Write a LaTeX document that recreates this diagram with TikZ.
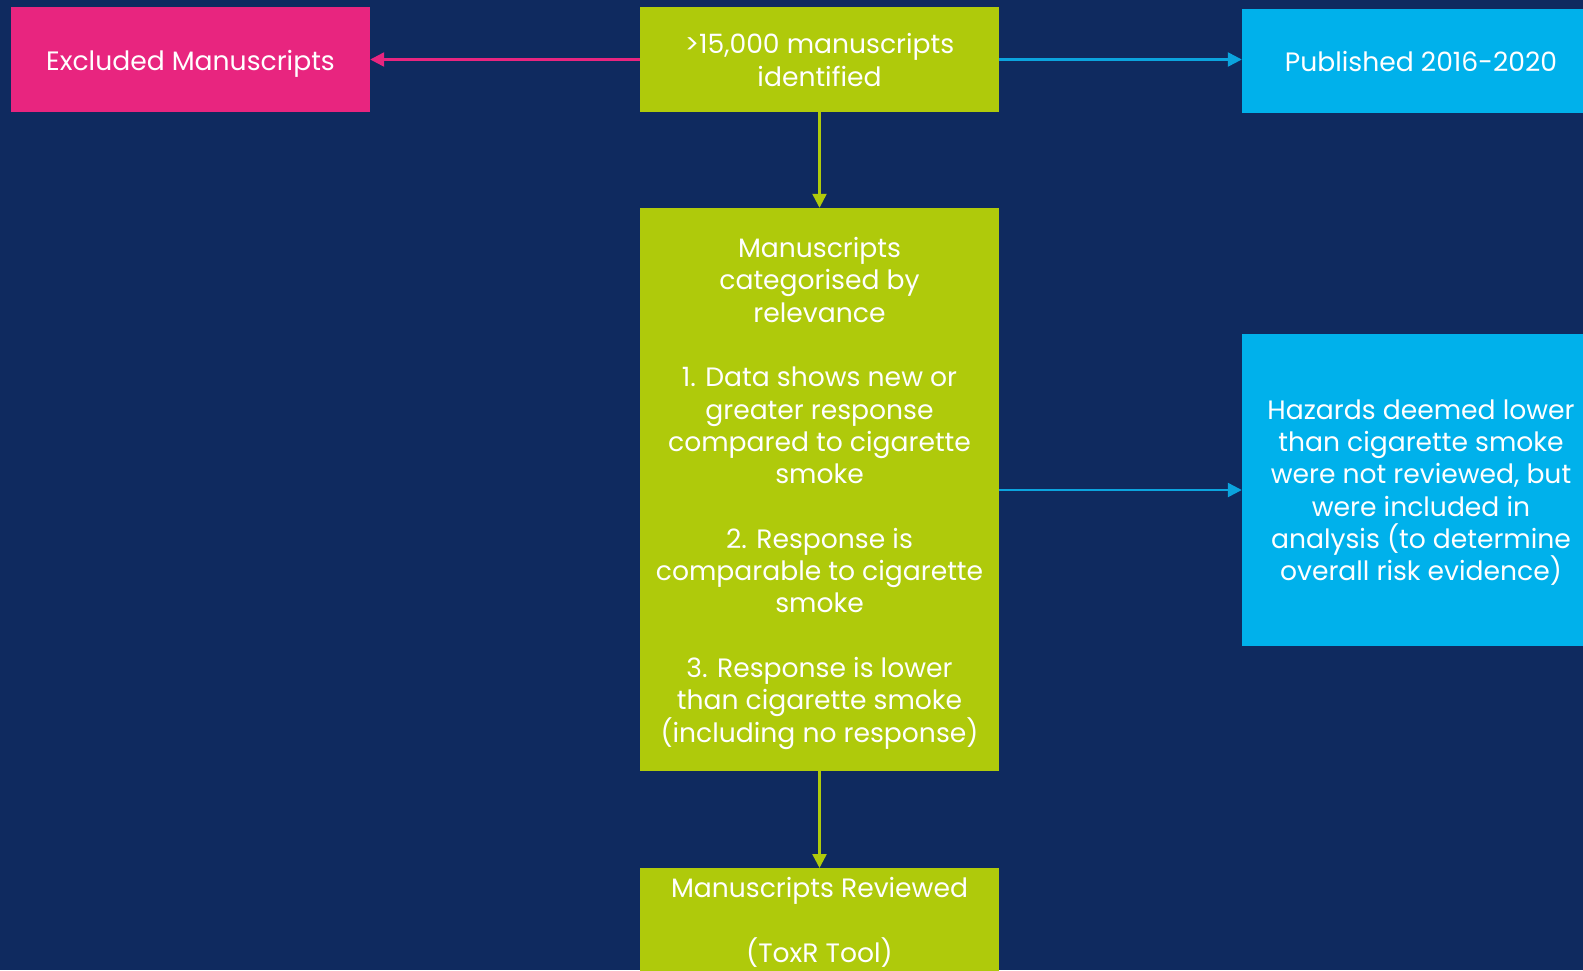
\documentclass[tikz,border=0pt]{standalone}
\usepackage{fontspec}
\setmainfont{Poppins}
\usetikzlibrary{arrows.meta}
\definecolor{navy}{HTML}{0F2A5F}
\definecolor{pinkbox}{HTML}{E8257F}
\definecolor{greenbox}{HTML}{AFCA0B}
\definecolor{bluebox}{HTML}{00B1EB}
\definecolor{bluearrow}{HTML}{0BA4DE}
\tikzset{
  boxbase/.style={rectangle, inner sep=0pt, text=white, align=center,
    font=\fontsize{26.6}{32.3}\selectfont},
  pinkstyle/.style={boxbase, fill=pinkbox},
  greenstyle/.style={boxbase, fill=greenbox},
  bluestyle/.style={boxbase, fill=bluebox},
  conn/.style={line width=2.4pt, -{Triangle[length=14pt,width=14pt]}},
}
\begin{document}
\begin{tikzpicture}[x=1pt,y=-1pt]
\useasboundingbox (0,0) rectangle (1583,970);
\clip (0,0) rectangle (1583,970);
\fill[navy] (0,0) rectangle (1583,970);

\node[pinkstyle, minimum width=359pt, minimum height=105pt, text height=22.5pt, text depth=0pt] (excl) at (190.5,59.5) {Excluded Manuscripts};
\node[greenstyle, minimum width=359pt, minimum height=105pt] (top) at (819.5,59.5) {\rule{0pt}{21pt}>15,000 manuscripts\\identified};
\node[bluestyle, minimum width=358pt, minimum height=104pt] (pub) at (1421,61) {Published 2016-2020};
\node[greenstyle, minimum width=359pt, minimum height=563pt] (mid) at (819.5,489.5) {\rule{0pt}{28pt}Manuscripts\\categorised by\\relevance\\[32.3pt]1. Data shows new or\\greater response\\compared to cigarette\\smoke\\[32.3pt]2. Response is\\comparable to cigarette\\smoke\\[32.3pt]3. Response is lower\\than cigarette smoke\\(including no response)};
\node[bluestyle, minimum width=358pt, minimum height=312pt] (haz) at (1421,490) {\rule{0pt}{25pt}Hazards deemed lower\\than cigarette smoke\\were not reviewed, but\\were included in\\analysis (to determine\\overall risk evidence)};
\node[greenstyle, minimum width=359pt, minimum height=132pt, anchor=north] (bot) at (819.5,868) {};
\node[boxbase, anchor=north] (botlabel) at ([yshift=-9pt]bot.north) {Manuscripts Reviewed\\[32.3pt](ToxR Tool)};

\draw[conn, pinkbox] (top.west) -- (excl.east);
\draw[conn, bluearrow] (top.east) -- (top.east -| pub.west);
\draw[conn, greenbox] (top.south) -- (mid.north);
\draw[conn, bluearrow] (mid.east |- haz.west) -- (haz.west);
\draw[conn, greenbox] (mid.south) -- (bot.north);
\end{tikzpicture}
\end{document}
